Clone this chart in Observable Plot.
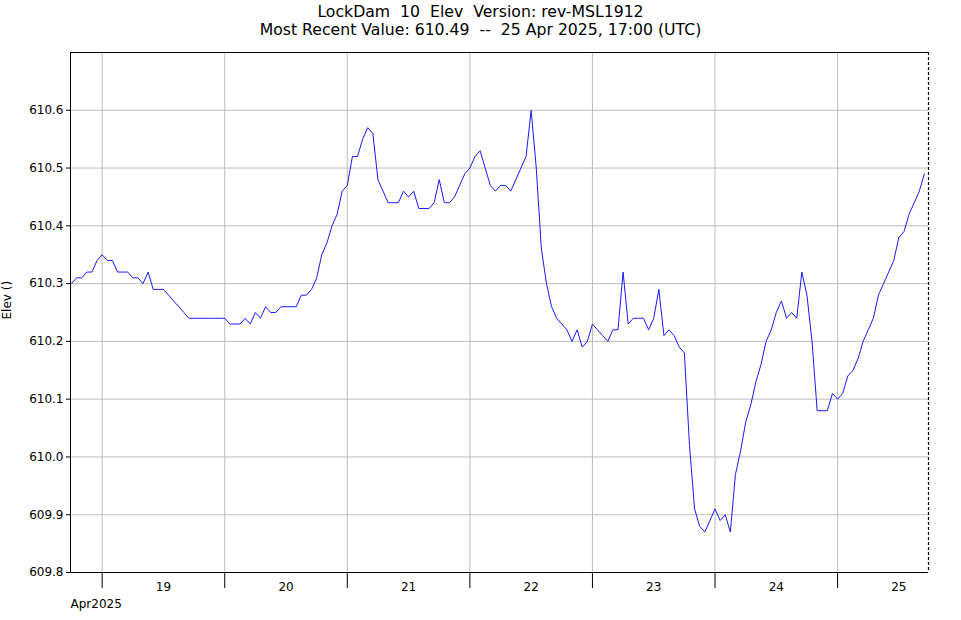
<!DOCTYPE html>
<html><head><meta charset="utf-8">
<script src="https://cdn.jsdelivr.net/npm/d3@7"></script>
<script src="https://cdn.jsdelivr.net/npm/@observablehq/plot@0.6"></script>
<style>
body{margin:0;background:#fff;}
#wrap{position:relative;width:961px;height:620px;font-family:"DejaVu Sans",sans-serif;}
.t{position:absolute;left:0;width:961px;text-align:center;font-size:15.7px;color:#000;white-space:pre;line-height:18px;}
#chart{position:absolute;left:0;top:0;}
</style></head><body>
<div id="wrap">
<div id="chart"></div>
<div class="t" id="t1" style="top:3px"></div>
<div class="t" id="t2" style="top:21px"></div>
</div>
<script>
// ---- data ----
const titleLine1 = "LockDam  10  Elev  Version: rev-MSL1912";
const titleLine2 = "Most Recent Value: 610.49  --  25 Apr 2025, 17:00 (UTC)";
const yLabel = "Elev ()";
const firstTime = "2025-04-18T18:00:00Z"; // hourly readings start
const elev = [
  // Apr 18 18:00-23:00
  610.30, 610.31, 610.31, 610.32, 610.32, 610.34,
  // Apr 19
  610.35, 610.34, 610.34, 610.32, 610.32, 610.32, 610.31, 610.31, 610.30, 610.32, 610.29, 610.29,
  610.29, 610.28, 610.27, 610.26, 610.25, 610.24, 610.24, 610.24, 610.24, 610.24, 610.24, 610.24,
  // Apr 20
  610.24, 610.23, 610.23, 610.23, 610.24, 610.23, 610.25, 610.24, 610.26, 610.25, 610.25, 610.26,
  610.26, 610.26, 610.26, 610.28, 610.28, 610.29, 610.31, 610.35, 610.37, 610.40, 610.42, 610.46,
  // Apr 21
  610.47, 610.52, 610.52, 610.55, 610.57, 610.56, 610.48, 610.46, 610.44, 610.44, 610.44, 610.46,
  610.45, 610.46, 610.43, 610.43, 610.43, 610.44, 610.48, 610.44, 610.44, 610.45, 610.47, 610.49,
  // Apr 22
  610.50, 610.52, 610.53, 610.50, 610.47, 610.46, 610.47, 610.47, 610.46, 610.48, 610.50, 610.52,
  610.60, 610.50, 610.36, 610.30, 610.26, 610.24, 610.23, 610.22, 610.20, 610.22, 610.19, 610.20,
  // Apr 23
  610.23, 610.22, 610.21, 610.20, 610.22, 610.22, 610.32, 610.23, 610.24, 610.24, 610.24, 610.22,
  610.24, 610.29, 610.21, 610.22, 610.21, 610.19, 610.18, 610.02, 609.91, 609.88, 609.87, 609.89,
  // Apr 24
  609.91, 609.89, 609.90, 609.87, 609.97, 610.01, 610.06, 610.09, 610.13, 610.16, 610.20, 610.22,
  610.25, 610.27, 610.24, 610.25, 610.24, 610.32, 610.28, 610.20, 610.08, 610.08, 610.08, 610.11,
  // Apr 25 00:00-17:00
  610.10, 610.11, 610.14, 610.15, 610.17, 610.20, 610.22, 610.24, 610.28, 610.30, 610.32, 610.34,
  610.38, 610.39, 610.42, 610.44, 610.46, 610.49
];
const yTicks = [609.8, 609.9, 610.0, 610.1, 610.2, 610.3, 610.4, 610.5, 610.6];
const dayLabels = ["19", "20", "21", "22", "23", "24", "25"];
const monthLabel = "Apr2025";
const xStart = new Date("2025-04-18T17:48:00Z");
const xEnd = new Date("2025-04-25T17:48:00Z");
const yMin = 609.8, yMax = 610.7;

// ---- build ----
document.getElementById("t1").textContent = titleLine1;
document.getElementById("t2").textContent = titleLine2;

const t0 = new Date(firstTime).getTime();
const data = elev.map((v, i) => ({time: new Date(t0 + i * 3600e3), v}));
const dayTicks = dayLabels.map(d => new Date(`2025-04-${d}T00:00:00Z`));
const noonTicks = dayLabels.map(d => new Date(`2025-04-${d}T12:00:00Z`));
const grid = "#bdbdbd";

const chart = Plot.plot({
  width: 961, height: 620,
  marginLeft: 70, marginRight: 33, marginTop: 52, marginBottom: 48,
  style: {fontFamily: "DejaVu Sans, sans-serif", fontSize: "12px", background: "white", color: "black"},
  x: {type: "utc", domain: [xStart, xEnd]},
  y: {domain: [yMin, yMax]},
  marks: [
    Plot.gridY(yTicks, {stroke: grid, strokeOpacity: 1}),
    Plot.gridX(dayTicks, {stroke: grid, strokeOpacity: 1}),
    Plot.line(data, {x: "time", y: "v", stroke: "#1a1aff", strokeWidth: 1}),
    Plot.ruleX([xStart], {stroke: "black"}),
    Plot.ruleY([yMin], {stroke: "black"}),
    Plot.ruleY([yMax], {stroke: "black"}),
    Plot.ruleX([xEnd], {stroke: "black", strokeDasharray: "3,2", strokeWidth: 1.2}),
    Plot.axisY(yTicks, {tickSize: 4, tickPadding: 3, tickFormat: d3.format(".1f"), label: null, fontSize: 12}),
    Plot.axisX(dayTicks, {tickSize: 16, tickFormat: () => "", label: null}),
    Plot.axisX(noonTicks, {tickSize: 0, tickPadding: 10, tickFormat: (d, i) => dayLabels[i], label: null, fontSize: 12}),
    Plot.axisX([xStart], {tickSize: 0, tickPadding: 27, textAnchor: "start", tickFormat: () => monthLabel, label: null, fontSize: 12}),
    Plot.text([yLabel], {frameAnchor: "left", dx: -63, dy: 7, rotate: -90, fontSize: 12, text: d => d})
  ]
});
document.getElementById("chart").appendChild(chart);
</script>
</body></html>
